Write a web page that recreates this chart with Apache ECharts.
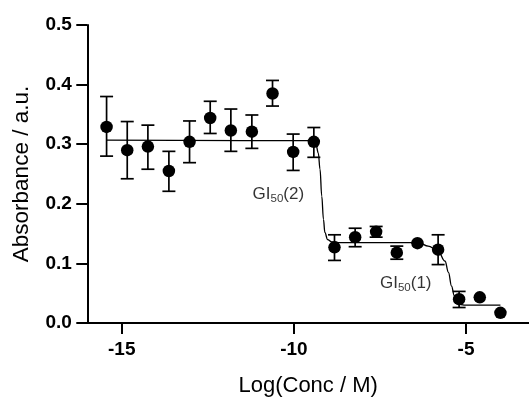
<!DOCTYPE html>
<html>
<head>
<meta charset="utf-8">
<script src="https://cdn.jsdelivr.net/npm/echarts@6/dist/echarts.min.js"></script>
<style>
  html, body { margin: 0; padding: 0; background: #fff; }
  #chart { width: 529px; height: 402px; }
</style>
</head>
<body>
<div id="chart"></div>
<script>
// ---- data ----
const logConc = [-15.44, -14.84, -14.24, -13.63, -13.03, -12.43, -11.83, -11.22, -10.62, -10.02,
                 -9.42, -8.82, -8.22, -7.61, -7.01, -6.41, -5.81, -5.20, -4.60, -4.00];
const absorbance = [0.329, 0.290, 0.296, 0.255, 0.304, 0.344, 0.323, 0.321, 0.385, 0.287,
                    0.304, 0.127, 0.144, 0.153, 0.118, 0.134, 0.123, 0.040, 0.043, 0.017];
const errLow  = [0.280, 0.242, 0.258, 0.221, 0.269, 0.318, 0.288, 0.293, 0.364, 0.256,
                 0.278, 0.105, 0.128, 0.144, 0.107, null, 0.098, 0.026, null, null];
const errHigh = [0.380, 0.338, 0.332, 0.288, 0.339, 0.372, 0.359, 0.349, 0.407, 0.317,
                 0.328, 0.148, 0.159, 0.162, 0.129, null, 0.148, 0.053, null, null];
// fitted curve, points
const fitX = [-15.44, -9.45, -9.36, -9.29, -9.24, -9.19, -9.14, -9.10, -9.02, -8.90, -8.70,
              -6.60, -6.35, -6.10, -5.82, -5.61, -5.51, -5.42, -5.34, -5.27, -5.15, -5.03, -4.00];
const fitY = [0.307, 0.306, 0.300, 0.285, 0.258, 0.213, 0.174, 0.152, 0.140, 0.136, 0.135,
              0.135, 0.134, 0.129, 0.122, 0.104, 0.085, 0.062, 0.046, 0.036, 0.031, 0.030, 0.030];
const xTicks = [-15, -10, -5];
const annotations = [
  { x: -10.45, y: 0.216, sub: '50', tail: '(2)' },
  { x: -6.75,  y: 0.067, sub: '50', tail: '(1)' }
];

const FONT = 'Arial, "Liberation Sans", Helvetica, sans-serif';

const pointData = logConc.map((x, i) => [x, absorbance[i]]);
const errData = logConc.map((x, i) => [x, errLow[i], errHigh[i]]).filter(d => d[1] != null);
const fitData = fitX.map((x, i) => [x, fitY[i]]);
const annData = annotations.map(a => ({ value: [a.x, a.y], sub: a.sub, tail: a.tail }));

const chart = echarts.init(document.getElementById('chart'), null, { renderer: 'canvas' });

chart.setOption({
  animation: false,
  backgroundColor: '#fff',
  grid: { left: 87.3, right: 0, top: 25, bottom: 78 },
  xAxis: {
    type: 'value', min: -16, max: -3.17,
    name: 'Log(Conc / M)', nameLocation: 'middle', nameGap: 52,
    nameTextStyle: { fontFamily: FONT, fontSize: 22, color: '#000' },
    axisLine: { show: true, onZero: false, lineStyle: { color: '#000', width: 2 } },
    axisTick: { show: true, length: 11, lineStyle: { color: '#000', width: 2 }, customValues: xTicks },
    axisLabel: { fontFamily: FONT, fontSize: 19, fontWeight: 'bold', color: '#000', margin: 17, customValues: xTicks },
    splitLine: { show: false }
  },
  yAxis: {
    type: 'value', min: 0, max: 0.5, interval: 0.1,
    name: 'Absorbance / a.u.', nameLocation: 'middle', nameGap: 54,
    nameTextStyle: { fontFamily: FONT, fontSize: 22.5, color: '#000' },
    axisLine: { show: true, lineStyle: { color: '#000', width: 2 } },
    axisTick: { show: true, length: 11, lineStyle: { color: '#000', width: 2 } },
    axisLabel: { fontFamily: FONT, fontSize: 19, fontWeight: 'bold', color: '#000', margin: 15.5,
                 formatter: v => v.toFixed(1) },
    splitLine: { show: false }
  },
  series: [
    {
      type: 'line', data: fitData, showSymbol: false, smooth: 0.4, smoothMonotone: 'x',
      lineStyle: { color: '#000', width: 1.3 }, z: 2, silent: true
    },
    {
      type: 'custom', data: errData, z: 3, silent: true,
      renderItem: function (params, api) {
        const x = api.value(0), lo = api.value(1), hi = api.value(2);
        const pLo = api.coord([x, lo]);
        const pHi = api.coord([x, hi]);
        const w = 6.5;
        const st = { stroke: '#000', lineWidth: 1.7 };
        return {
          type: 'group',
          children: [
            { type: 'line', shape: { x1: pHi[0], y1: pHi[1], x2: pLo[0], y2: pLo[1] }, style: st },
            { type: 'line', shape: { x1: pHi[0] - w, y1: pHi[1], x2: pHi[0] + w, y2: pHi[1] }, style: st },
            { type: 'line', shape: { x1: pLo[0] - w, y1: pLo[1], x2: pLo[0] + w, y2: pLo[1] }, style: st }
          ]
        };
      }
    },
    {
      type: 'scatter', data: pointData, symbol: 'circle', symbolSize: 12.5,
      itemStyle: { color: '#000', opacity: 1 }, z: 4, silent: true
    },
    {
      type: 'scatter', data: annData, symbolSize: 0, silent: true, z: 5,
      label: {
        show: true, position: 'inside', color: '#000', textBorderWidth: 0,
        formatter: p => '{a|GI}{s|' + p.data.sub + '}{a|' + p.data.tail + '}',
        rich: {
          a: { fontFamily: FONT, fontSize: 17, color: '#000', lineHeight: 21, textBorderWidth: 0 },
          s: { fontFamily: FONT, fontSize: 11.5, color: '#000', lineHeight: 12, verticalAlign: 'bottom', textBorderWidth: 0 }
        }
      }
    }
  ]
});
</script>
</body>
</html>
